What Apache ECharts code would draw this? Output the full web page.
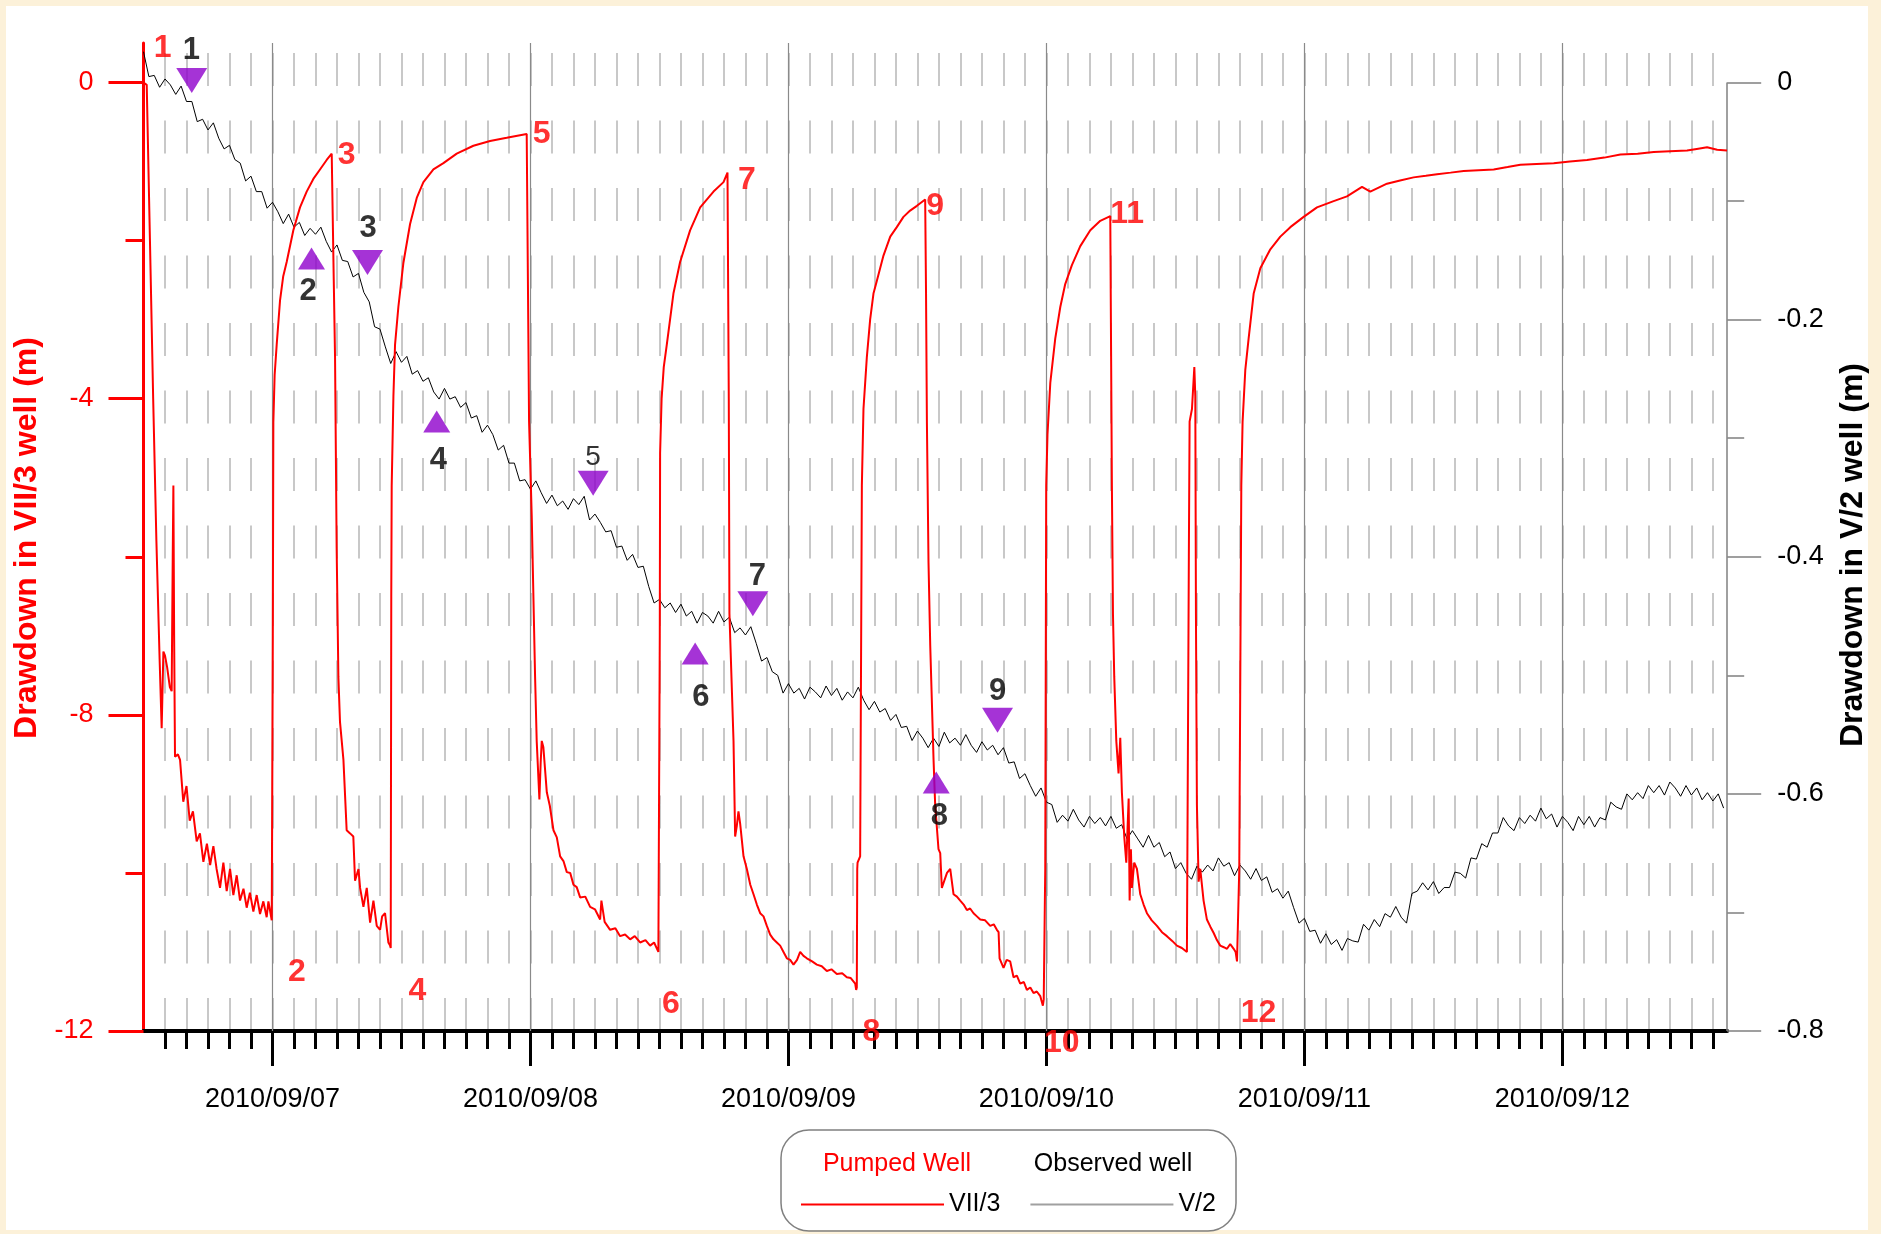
<!DOCTYPE html>
<html>
<head>
<meta charset="utf-8">
<script src="https://cdn.jsdelivr.net/npm/echarts@6/dist/echarts.min.js"></script>
<style>
html,body{margin:0;padding:0;background:#fcf1d9;}
#chart{width:1881px;height:1234px;}
</style>
</head>
<body>
<div id="chart"></div>
<script>
// ---------------- DATA ----------------
// time axis in hours counted from 2010/09/06 00:00
const xMin = 12;          // 2010/09/06 12:00
const xMax = 159.3333;    // 2010/09/12 15:20
const dayHours = [24, 48, 72, 96, 120, 144];
const dayLabels = ['2010/09/07', '2010/09/08', '2010/09/09', '2010/09/10', '2010/09/11', '2010/09/12'];

const leftTicks = [-12, -8, -4, 0];
const leftMinorTicks = [-10, -6, -2];
const rightTicks = [-0.8, -0.6, -0.4, -0.2, 0];
const rightMinorTicks = [-0.7, -0.5, -0.3, -0.1];

// Pumped well VII/3 drawdown (m): [hour, drawdown]
const pumpedWell = [
[12.0,0.0],[12.3,-0.03],[12.6,-2.0],[12.9,-4.0],[13.2,-5.8],[13.5,-7.3],[13.69,-8.17],[13.85,-7.2],[14.0,-7.25],[14.2,-7.4],[14.45,-7.65],[14.62,-7.7],[14.72,-6.0],[14.78,-5.1],[14.85,-7.0],[14.93,-8.53],[15.2,-8.5],[15.4,-8.57],[15.7,-9.1],[16.0,-8.9],[16.3,-9.34],[16.6,-9.22],[16.95,-9.6],[17.25,-9.5],[17.57,-9.86],[17.9,-9.63],[18.2,-9.9],[18.5,-9.66],[18.8,-9.95],[19.12,-10.19],[19.43,-9.87],[19.74,-10.23],[20.05,-9.95],[20.36,-10.28],[20.67,-10.03],[20.98,-10.35],[21.3,-10.2],[21.6,-10.44],[21.9,-10.25],[22.22,-10.49],[22.53,-10.28],[22.84,-10.52],[23.15,-10.36],[23.46,-10.56],[23.62,-10.36],[23.93,-10.6],[24.0,-10.62],
[24.03,-7.0],[24.08,-4.3],[24.2,-3.7],[24.39,-3.32],[24.7,-2.76],[25.0,-2.45],[25.32,-2.27],[25.94,-1.87],[26.56,-1.58],[27.18,-1.38],[27.8,-1.22],[28.42,-1.1],[29.04,-0.98],[29.51,-0.9],[29.6,-0.9],
[29.7,-2.5],[29.82,-3.48],[29.97,-5.9],[30.13,-7.52],[30.28,-8.09],[30.6,-8.57],[30.9,-9.46],[31.22,-9.5],[31.52,-9.54],[31.68,-10.1],[32.0,-9.95],[32.15,-10.19],[32.46,-10.43],[32.77,-10.19],[33.08,-10.63],[33.39,-10.35],[33.7,-10.67],[34.01,-10.72],[34.2,-10.55],[34.47,-10.51],[34.78,-10.88],[34.94,-10.92],[35.0,-10.95],
[35.05,-6.5],[35.09,-5.1],[35.25,-3.97],[35.4,-3.32],[35.71,-2.84],[36.18,-2.28],[36.8,-1.79],[37.42,-1.46],[38.04,-1.26],[38.97,-1.1],[39.9,-1.02],[41.14,-0.9],[42.69,-0.8],[44.24,-0.74],[45.79,-0.7],[47.65,-0.65],[47.8,-0.64],
[47.87,-4.29],[48.12,-5.5],[48.43,-7.52],[48.58,-8.33],[48.83,-9.07],[48.95,-8.6],[49.05,-8.33],[49.2,-8.41],[49.52,-8.98],[49.8,-9.15],[50.14,-9.46],[50.45,-9.55],[50.76,-9.79],[51.07,-9.85],[51.38,-9.99],[51.7,-10.0],[52.0,-10.15],[52.3,-10.18],[52.62,-10.31],[53.1,-10.3],[53.55,-10.43],[54.0,-10.46],[54.48,-10.59],[54.6,-10.35],[54.9,-10.62],[55.41,-10.72],[55.9,-10.7],[56.34,-10.8],[56.8,-10.78],[57.27,-10.84],[57.7,-10.8],[58.2,-10.88],[58.7,-10.85],[59.13,-10.92],[59.5,-10.88],[59.9,-11.0],[60.0,-10.98],
[60.03,-7.0],[60.06,-4.69],[60.2,-4.0],[60.4,-3.6],[60.68,-3.32],[61.3,-2.67],[61.92,-2.27],[62.85,-1.87],[63.79,-1.58],[65.03,-1.38],[65.96,-1.26],[66.33,-1.14],[66.4,-1.14],
[66.45,-4.0],[66.51,-6.72],[66.89,-8.33],[67.04,-9.54],[67.2,-9.4],[67.35,-9.22],[67.51,-9.38],[67.82,-9.79],[68.13,-9.95],[68.45,-10.15],[68.75,-10.27],[69.06,-10.4],[69.37,-10.51],[69.68,-10.55],[69.99,-10.67],[70.3,-10.78],[70.61,-10.84],[70.92,-10.88],[71.23,-10.92],[71.54,-11.0],[71.85,-11.08],[72.16,-11.1],[72.47,-11.16],[72.8,-11.1],[73.09,-11.0],[73.4,-11.05],[73.71,-11.08],[74.2,-11.12],[74.64,-11.16],[75.1,-11.18],[75.57,-11.24],[76.0,-11.22],[76.5,-11.28],[77.0,-11.27],[77.43,-11.32],[77.8,-11.33],[78.21,-11.4],[78.3,-11.48],[78.36,-11.45],
[78.4,-9.95],[78.43,-9.87],[78.67,-9.79],[78.83,-5.1],[78.98,-4.13],[79.29,-3.48],[79.6,-3.0],[79.91,-2.67],[80.22,-2.51],[80.84,-2.19],[81.47,-1.95],[82.08,-1.83],[82.7,-1.7],[83.32,-1.62],[83.95,-1.56],[84.72,-1.48],[84.78,-1.48],
[84.8,-2.67],[84.88,-4.29],[85.03,-6.07],[85.19,-7.12],[85.5,-8.57],[85.65,-9.14],[85.96,-9.7],[86.12,-9.75],[86.27,-10.19],[86.43,-10.19],[86.75,-10.0],[87.05,-9.95],[87.36,-10.27],[87.67,-10.3],[87.98,-10.35],[88.3,-10.4],[88.6,-10.47],[88.9,-10.45],[89.22,-10.51],[89.53,-10.55],[89.84,-10.59],[90.3,-10.6],[90.77,-10.67],[91.1,-10.65],[91.39,-10.72],[91.55,-10.75],[91.64,-11.08],[92.01,-11.2],[92.3,-11.1],[92.63,-11.12],[92.94,-11.32],[93.25,-11.3],[93.56,-11.4],[93.9,-11.38],[94.18,-11.48],[94.5,-11.45],[94.8,-11.52],[95.1,-11.5],[95.43,-11.56],[95.67,-11.68],[95.75,-11.6],
[95.8,-11.0],[95.89,-9.95],[95.98,-5.1],[96.1,-4.45],[96.36,-3.8],[96.82,-3.24],[97.29,-2.84],[97.75,-2.55],[98.37,-2.31],[99.15,-2.07],[100.08,-1.87],[101.01,-1.75],[101.94,-1.69],[102.0,-1.69],
[102.09,-5.1],[102.19,-6.72],[102.31,-7.52],[102.5,-8.33],[102.71,-8.74],[102.87,-8.29],[103.02,-8.98],[103.24,-9.54],[103.43,-9.87],[103.65,-9.06],[103.74,-10.35],[103.86,-9.7],[103.95,-10.19],[104.17,-9.87],[104.42,-9.95],[104.73,-10.27],[105.04,-10.4],[105.35,-10.51],[105.8,-10.6],[106.28,-10.67],[106.75,-10.75],[107.21,-10.8],[107.7,-10.86],[108.14,-10.92],[108.6,-10.95],[109.07,-11.0],[109.2,-11.02],
[109.25,-6.0],[109.32,-4.29],[109.54,-4.13],[109.76,-3.6],[109.85,-3.97],[109.91,-6.72],[110.0,-9.14],[110.16,-10.11],[110.31,-9.95],[110.62,-10.35],[110.93,-10.59],[111.25,-10.68],[111.56,-10.76],[111.86,-10.85],[112.17,-10.92],[112.5,-10.94],[112.8,-10.96],[113.1,-10.9],[113.42,-10.96],[113.6,-11.0],[113.73,-11.12],[113.8,-11.1],
[113.94,-9.95],[114.13,-5.1],[114.25,-4.29],[114.5,-3.64],[114.81,-3.24],[115.28,-2.67],[115.9,-2.35],[116.83,-2.11],[117.76,-1.95],[118.69,-1.83],[119.93,-1.7],[121.17,-1.58],[122.72,-1.5],[123.96,-1.44],[125.36,-1.32],[126.13,-1.38],[127.68,-1.28],[128.9,-1.24],[130.16,-1.2],[131.3,-1.18],[132.34,-1.16],[133.6,-1.14],[134.82,-1.12],[136.2,-1.11],[137.61,-1.1],[138.9,-1.07],[140.09,-1.04],[141.6,-1.03],[143.19,-1.02],[144.7,-1.0],[146.29,-0.98],[147.9,-0.95],[149.4,-0.91],[151.0,-0.9],[152.5,-0.88],[154.0,-0.87],[155.6,-0.86],[156.5,-0.84],[157.46,-0.82],[158.4,-0.85],[159.32,-0.86]
];

// Observed well V/2 drawdown (m), logged every half hour from 2010/09/06 12:00
const observedStart = 12;
const observedStep = 0.5;
const observedWell = [
0.026,0.005,0.006,-0.004,0.003,-0.002,-0.010,-0.003,-0.016,-0.016,
-0.033,-0.031,-0.040,-0.034,-0.047,-0.056,-0.053,-0.065,-0.068,-0.083,
-0.079,-0.092,-0.092,-0.106,-0.101,-0.109,-0.119,-0.111,-0.122,-0.118,
-0.129,-0.123,-0.128,-0.122,-0.134,-0.143,-0.137,-0.150,-0.151,-0.164,
-0.161,-0.177,-0.185,-0.206,-0.208,-0.223,-0.237,-0.227,-0.236,-0.231,
-0.246,-0.243,-0.252,-0.249,-0.261,-0.267,-0.258,-0.267,-0.265,-0.274,
-0.270,-0.283,-0.281,-0.295,-0.289,-0.297,-0.310,-0.306,-0.321,-0.321,
-0.336,-0.335,-0.343,-0.336,-0.346,-0.355,-0.348,-0.357,-0.353,-0.360,
-0.351,-0.356,-0.349,-0.369,-0.364,-0.371,-0.379,-0.378,-0.392,-0.391,
-0.403,-0.398,-0.409,-0.408,-0.425,-0.439,-0.436,-0.443,-0.439,-0.447,
-0.440,-0.450,-0.446,-0.456,-0.447,-0.450,-0.456,-0.446,-0.455,-0.451,
-0.464,-0.460,-0.466,-0.459,-0.473,-0.488,-0.485,-0.497,-0.500,-0.515,
-0.507,-0.515,-0.511,-0.520,-0.510,-0.514,-0.519,-0.509,-0.517,-0.511,
-0.521,-0.514,-0.519,-0.510,-0.521,-0.529,-0.522,-0.531,-0.528,-0.538,
-0.533,-0.544,-0.543,-0.555,-0.547,-0.553,-0.561,-0.553,-0.560,-0.548,
-0.557,-0.553,-0.559,-0.550,-0.559,-0.565,-0.556,-0.563,-0.559,-0.567,
-0.561,-0.574,-0.573,-0.587,-0.583,-0.593,-0.602,-0.595,-0.607,-0.609,
-0.624,-0.618,-0.623,-0.613,-0.622,-0.628,-0.619,-0.625,-0.620,-0.627,
-0.619,-0.629,-0.626,-0.638,-0.631,-0.638,-0.645,-0.635,-0.645,-0.641,
-0.653,-0.649,-0.663,-0.658,-0.667,-0.672,-0.661,-0.666,-0.660,-0.665,
-0.654,-0.661,-0.658,-0.669,-0.660,-0.665,-0.672,-0.663,-0.673,-0.670,
-0.683,-0.680,-0.688,-0.682,-0.696,-0.709,-0.705,-0.716,-0.715,-0.726,
-0.718,-0.727,-0.723,-0.732,-0.722,-0.724,-0.725,-0.710,-0.715,-0.706,
-0.712,-0.701,-0.704,-0.695,-0.704,-0.709,-0.684,-0.682,-0.675,-0.681,
-0.674,-0.684,-0.679,-0.679,-0.666,-0.667,-0.671,-0.654,-0.655,-0.642,
-0.645,-0.633,-0.633,-0.620,-0.627,-0.631,-0.620,-0.625,-0.618,-0.623,
-0.612,-0.621,-0.617,-0.628,-0.619,-0.624,-0.631,-0.619,-0.626,-0.619,
-0.628,-0.620,-0.622,-0.607,-0.611,-0.613,-0.600,-0.605,-0.599,-0.604,
-0.593,-0.599,-0.593,-0.601,-0.590,-0.595,-0.602,-0.593,-0.601,-0.595,
-0.605,-0.599,-0.606,-0.600,-0.612
];

// Purple triangle markers on the observed-well curve (right axis)
const markerHours  = [16.49, 27.63, 32.84, 39.28, 53.83, 63.32, 68.69, 85.75, 91.45];
const markerDepths = [0.0017, -0.1485, -0.1518, -0.286, -0.338, -0.4815, -0.4396, -0.5905, -0.538];
const markerDir    = ['down', 'up', 'down', 'up', 'down', 'up', 'down', 'up', 'down'];

// Black numbers (observed well, right axis)
const obsLabelHours  = [16.46, 27.31, 32.89, 39.43, 53.83, 63.85, 69.12, 86.03, 91.45];
const obsLabelDepths = [0.0273, -0.1766, -0.1233, -0.3185, -0.316, -0.5187, -0.4165, -0.619, -0.5134];
const obsLabelText   = ['1', '2', '3', '4', '5', '6', '7', '8', '9'];

// Red numbers (pumped well, left axis)
const pumpLabelHours  = [13.78, 26.26, 30.91, 37.48, 49.05, 61.06, 68.13, 79.72, 85.65, 97.43, 103.5, 115.74];
const pumpLabelDepths = [0.43, -11.26, -0.92, -11.5, -0.655, -11.66, -1.24, -12.02, -1.56, -12.15, -1.665, -11.77];
const pumpLabelText   = ['1', '2', '3', '4', '5', '6', '7', '8', '9', '10', '11', '12'];

// ---------------- CHART ----------------
const FONT = "'Liberation Sans', Arial, Helvetica, sans-serif";
const RED = '#ff0000';
const PURPLE = '#8f00cc';

const twoHourTicks = [];
for (let h = xMin + 2; h < xMax; h += 2) twoHourTicks.push(h);

const observedData = observedWell.map((v, i) => [observedStart + i * observedStep, v]);

const markerData = markerHours.map((h, i) => ({
  value: [h, markerDepths[i]],
  symbolRotate: markerDir[i] === 'down' ? 180 : 0,
  symbolSize: markerDir[i] === 'down' ? [31, 25] : [27, 22]
}));

const obsLabelData = obsLabelHours.map((h, i) => ({
  value: [h, obsLabelDepths[i]],
  name: obsLabelText[i],
  label: obsLabelText[i] === '5' ? { fontWeight: 'normal', fontSize: 28 } : undefined
}));

const pumpLabelData = pumpLabelHours.map((h, i) => ({
  value: [h, pumpLabelDepths[i]],
  name: pumpLabelText[i]
}));

const chart = echarts.init(document.getElementById('chart'), null, { renderer: 'canvas' });

const option = {
  animation: false,
  backgroundColor: '#fcf1d9',
  textStyle: { fontFamily: FONT },
  grid: { left: 143.5, right: 153.8, top: 43, bottom: 203, containLabel: false, outerBoundsMode: 'none' },
  xAxis: [
    {
      type: 'value', position: 'bottom', min: xMin, max: xMax, interval: 2,
      axisLine: { show: true, onZero: false, lineStyle: { color: '#000', width: 4 } },
      axisTick: { show: true, customValues: twoHourTicks, length: 18, lineStyle: { color: '#000', width: 3 } },
      axisLabel: {
        show: true, customValues: dayHours, margin: 55, fontSize: 27, color: '#000', fontFamily: FONT,
        formatter: v => dayLabels[dayHours.indexOf(Math.round(v))] || ''
      },
      splitLine: { show: true, lineStyle: { color: '#c8c8c8', width: 2, type: [33, 34.5], dashOffset: 57.5 } }
    },
    {
      type: 'value', position: 'bottom', min: xMin, max: xMax, interval: 2,
      axisLine: { show: false, onZero: false },
      axisTick: { show: true, customValues: dayHours, length: 35, lineStyle: { color: '#000', width: 3 } },
      axisLabel: { show: false },
      splitLine: { show: false }
    }
  ],
  yAxis: [
    {
      type: 'value', position: 'left', min: -12, max: 0.5,
      axisLine: { show: true, onZero: false, lineStyle: { color: RED, width: 3 } },
      axisTick: { show: true, customValues: leftTicks, length: 35, lineStyle: { color: RED, width: 3 } },
      axisLabel: { show: true, customValues: leftTicks, margin: 50, fontSize: 27, color: RED, fontFamily: FONT, formatter: v => String(Math.round(v)) },
      splitLine: { show: false }
    },
    {
      type: 'value', position: 'right', min: -0.8, max: 0.8 / 24,
      axisLine: { show: false, onZero: false },
      axisTick: { show: true, customValues: rightTicks, length: 34, lineStyle: { color: '#808080', width: 1.5 } },
      axisLabel: { show: true, customValues: rightTicks, margin: 50, fontSize: 27, color: '#000', fontFamily: FONT,
        formatter: v => Math.abs(v) < 1e-9 ? '0' : v.toFixed(1) },
      splitLine: { show: false }
    },
    {
      type: 'value', position: 'left', min: -12, max: 0.5,
      axisLine: { show: false, onZero: false },
      axisTick: { show: true, customValues: leftMinorTicks, length: 18, lineStyle: { color: RED, width: 3 } },
      axisLabel: { show: false },
      splitLine: { show: false }
    },
    {
      type: 'value', position: 'right', min: -0.8, max: 0.8 / 24,
      axisLine: { show: false, onZero: false },
      axisTick: { show: true, customValues: rightMinorTicks, length: 17, lineStyle: { color: '#808080', width: 1.5 } },
      axisLabel: { show: false },
      splitLine: { show: false }
    }
  ],
  legend: {
    show: true,
    left: 796, top: 1187,
    itemWidth: 143, itemHeight: 2, itemGap: 30,
    icon: 'rect',
    selectedMode: false,
    textStyle: { fontSize: 25, color: '#000', fontFamily: FONT },
    data: [
      { name: 'VII/3', icon: 'rect', itemStyle: { color: RED } },
      { name: 'V/2', icon: 'rect', itemStyle: { color: '#a0a0a0' } }
    ]
  },
  series: [
    {
      name: 'VII/3', type: 'line', xAxisIndex: 0, yAxisIndex: 0,
      data: pumpedWell, showSymbol: false, symbol: 'none', z: 3,
      lineStyle: { color: RED, width: 2 }, itemStyle: { color: RED },
      emphasis: { disabled: true }, silent: true
    },
    {
      name: 'V/2', type: 'line', xAxisIndex: 0, yAxisIndex: 1,
      data: observedData, showSymbol: false, symbol: 'none', z: 2,
      lineStyle: { color: '#000', width: 1 }, itemStyle: { color: '#000' },
      emphasis: { disabled: true }, silent: true,
      markLine: {
        silent: true, z: 1, symbol: ['none', 'none'], label: { show: false },
        emphasis: { disabled: true },
        lineStyle: { color: '#8a8a8a', width: 1.2, type: 'solid' },
        data: dayHours.map(h => ({ xAxis: h })).concat([
          [ { coord: [xMax, 0], lineStyle: { color: '#808080', width: 1.5, type: 'solid' } }, { coord: [xMax, -0.8] } ]
        ])
      }
    },
    {
      name: 'markers', type: 'scatter', xAxisIndex: 0, yAxisIndex: 1,
      symbol: 'triangle', data: markerData, z: 6, clip: false, silent: true,
      itemStyle: { color: PURPLE }
    },
    {
      name: 'obsLabels', type: 'scatter', xAxisIndex: 0, yAxisIndex: 1,
      symbolSize: 1, data: obsLabelData, z: 7, clip: false, silent: true,
      itemStyle: { color: 'rgba(0,0,0,0)' },
      label: { show: true, position: 'inside', formatter: p => p.name, color: '#000', fontSize: 31, fontWeight: 'bold', fontFamily: FONT }
    },
    {
      name: 'pumpLabels', type: 'scatter', xAxisIndex: 0, yAxisIndex: 0,
      symbolSize: 1, data: pumpLabelData, z: 7, clip: false, silent: true,
      itemStyle: { color: 'rgba(0,0,0,0)' },
      label: { show: true, position: 'inside', formatter: p => p.name, color: RED, fontSize: 32, fontWeight: 'bold', fontFamily: FONT }
    }
  ],
  graphic: [
    { type: 'rect', z: -100, silent: true, shape: { x: 6, y: 6, width: 1862, height: 1224 }, style: { fill: '#ffffff' } },
    { type: 'rect', z: 10, silent: true, shape: { x: 781, y: 1130, width: 455, height: 101, r: 28 }, style: { fill: 'none', stroke: '#808080', lineWidth: 1.5 } },
    { type: 'text', z: 10, silent: true, x: 897, y: 1164,
      style: { text: 'Pumped Well', fill: RED, fontSize: 25, fontFamily: FONT, align: 'center', verticalAlign: 'middle', textAlign: 'center', textVerticalAlign: 'middle' } },
    { type: 'text', z: 10, silent: true, x: 1113, y: 1164,
      style: { text: 'Observed well', fill: '#000', fontSize: 25, fontFamily: FONT, align: 'center', verticalAlign: 'middle', textAlign: 'center', textVerticalAlign: 'middle' } },
    { type: 'text', z: 10, silent: true, x: 27, y: 538, rotation: Math.PI / 2,
      style: { text: 'Drawdown in VII/3 well (m)', fill: RED, fontSize: 32, fontWeight: 'bold', fontFamily: FONT, align: 'center', verticalAlign: 'middle', textAlign: 'center', textVerticalAlign: 'middle' } },
    { type: 'text', z: 10, silent: true, x: 1853, y: 555, rotation: Math.PI / 2,
      style: { text: 'Drawdown in V/2 well (m)', fill: '#000', fontSize: 32, fontWeight: 'bold', fontFamily: FONT, align: 'center', verticalAlign: 'middle', textAlign: 'center', textVerticalAlign: 'middle' } }
  ]
};

chart.setOption(option);
</script>
</body>
</html>
